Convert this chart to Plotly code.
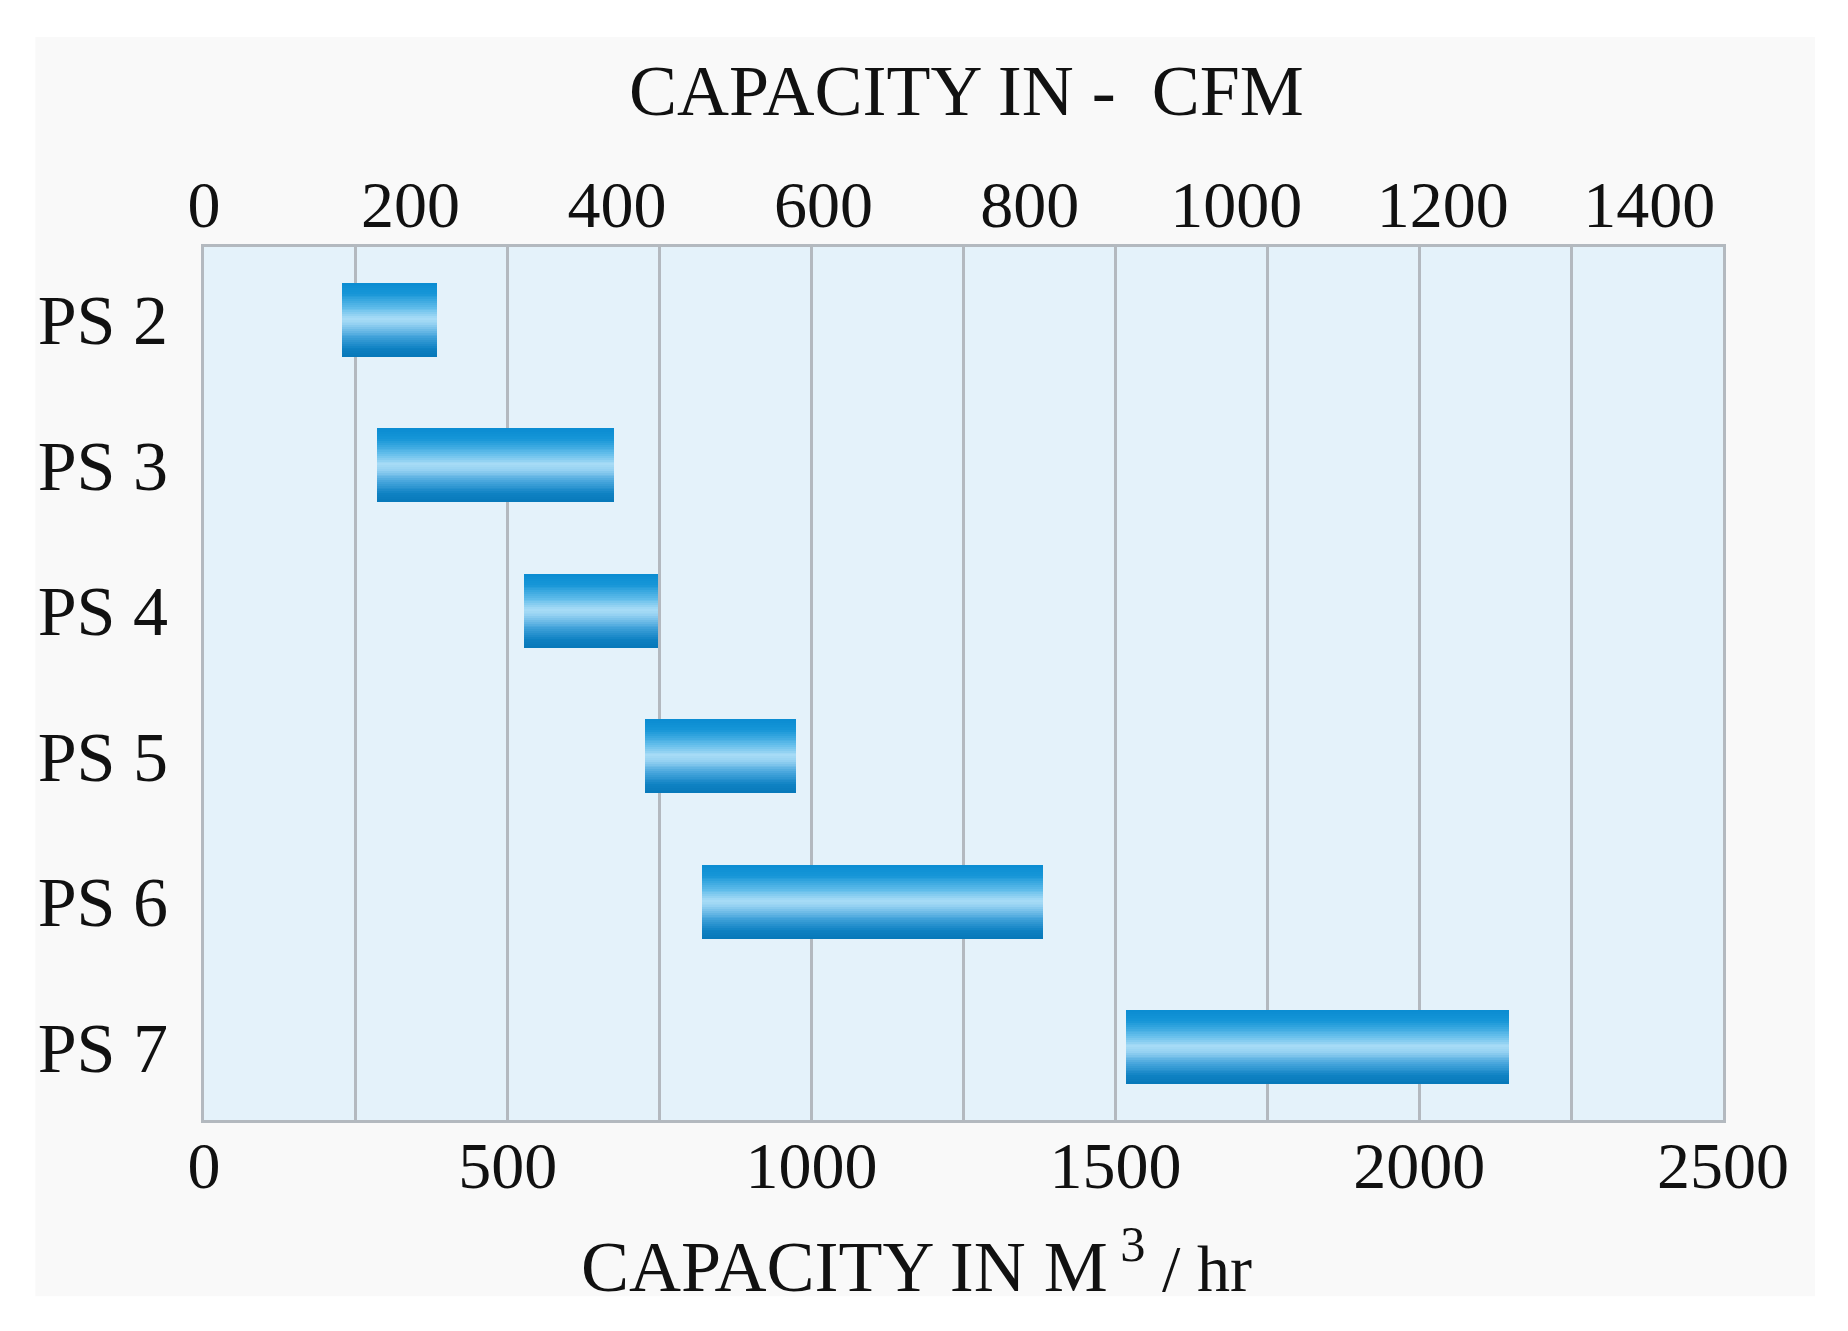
import plotly.graph_objects as go

# ---- data ----
models = ["PS 2", "PS 3", "PS 4", "PS 5", "PS 6", "PS 7"]
cap_min = [227, 285, 526, 725, 820, 1517]      # m3/hr
cap_max = [384, 675, 747, 974, 1381, 2147]     # m3/hr
m3_ticks = [0, 500, 1000, 1500, 2000, 2500]
cfm_ticks = [0, 200, 400, 600, 800, 1000, 1200, 1400]
M3H_TO_CFM = 0.58858

FONT = "Liberation Serif, Times New Roman, serif"
GRID = "#b3b9bf"
PLOT_BG = "#e4f2fa"

# vertical gradient of the bars (top -> bottom)
grad = [(0.0, (10, 140, 210)), (0.15, (22, 150, 215)), (0.35, (100, 190, 235)),
        (0.48, (168, 220, 246)), (0.56, (150, 210, 242)), (0.72, (70, 165, 220)),
        (0.88, (15, 130, 195)), (1.0, (6, 120, 185))]


def color_at(t):
    for (t0, c0), (t1, c1) in zip(grad[:-1], grad[1:]):
        if t0 <= t <= t1:
            f = (t - t0) / (t1 - t0)
            c = [round(a + (b - a) * f) for a, b in zip(c0, c1)]
            return f"rgb({c[0]},{c[1]},{c[2]})"
    return "rgb(6,120,185)"


lengths = [b - a for a, b in zip(cap_min, cap_max)]
W = 0.51
N = 40
step = W / N

fig = go.Figure()
for k in range(N):
    off = -W / 2 + k * step
    w = min(step * 1.6, W / 2 - off)
    fig.add_trace(go.Bar(
        y=models, x=lengths, base=cap_min, orientation="h",
        width=w, offset=off,
        marker=dict(color=color_at((k + 0.5) / N), line=dict(width=0)),
        showlegend=False, hoverinfo="skip",
    ))

# invisible trace to carry the top (CFM) axis
fig.add_trace(go.Scatter(x=[0], y=[models[0]], xaxis="x2", mode="markers",
                         marker=dict(opacity=0), showlegend=False, hoverinfo="skip"))

fig.update_layout(
    width=1848, height=1331,
    margin=dict(l=204, r=125, t=247, b=211),
    paper_bgcolor="#ffffff",
    plot_bgcolor=PLOT_BG,
    barmode="overlay",
    bargap=0,
    font=dict(family=FONT, color="#111111"),
    xaxis=dict(
        range=[0, 2500], tickvals=m3_ticks, ticks="",
        tickfont=dict(family=FONT, size=66, color="#111111"),
        ticklabelstandoff=-14,
        showgrid=True, gridcolor=GRID, gridwidth=3,
        minor=dict(dtick=250, tick0=0, showgrid=True, gridcolor=GRID, gridwidth=3),
        showline=True, mirror=True, linecolor=GRID, linewidth=3,
        zeroline=False, fixedrange=True,
    ),
    xaxis2=dict(
        overlaying="x", side="top",
        range=[0, 2500 * M3H_TO_CFM], tickvals=cfm_ticks, ticks="",
        tickfont=dict(family=FONT, size=66, color="#111111"),
        ticklabelstandoff=6,
        showgrid=False, showline=False, zeroline=False,
    ),
    yaxis=dict(
        autorange="reversed", ticks="",
        tickfont=dict(family=FONT, size=70, color="#111111"),
        ticklabelstandoff=19,
        showgrid=False, zeroline=False,
        showline=True, mirror=True, linecolor=GRID, linewidth=3,
    ),
    shapes=[
        dict(type="rect", xref="paper", yref="paper",
             x0=-0.111, x1=1.0606, y0=-0.202, y1=1.2405,
             fillcolor="#f9f9f9", line=dict(width=0), layer="below"),
        dict(type="rect", xref="paper", yref="paper",
             x0=0, x1=1, y0=0, y1=1,
             fillcolor=PLOT_BG, line=dict(width=0), layer="below"),
    ],
    annotations=[
        dict(text="CAPACITY IN -&nbsp; CFM", xref="paper", yref="paper",
             x=0.502, y=1.179, xanchor="center", yanchor="middle", showarrow=False,
             font=dict(family=FONT, size=72, color="#111111")),
        dict(text="CAPACITY IN M<sup>&nbsp;3</sup>"
                  "<span style='font-size:66px'>&nbsp;/ hr</span>",
             xref="paper", yref="paper",
             x=0.469, y=-0.162, xanchor="center", yanchor="middle", showarrow=False,
             font=dict(family=FONT, size=72, color="#111111")),
    ],
)

fig.write_html("out.html")
